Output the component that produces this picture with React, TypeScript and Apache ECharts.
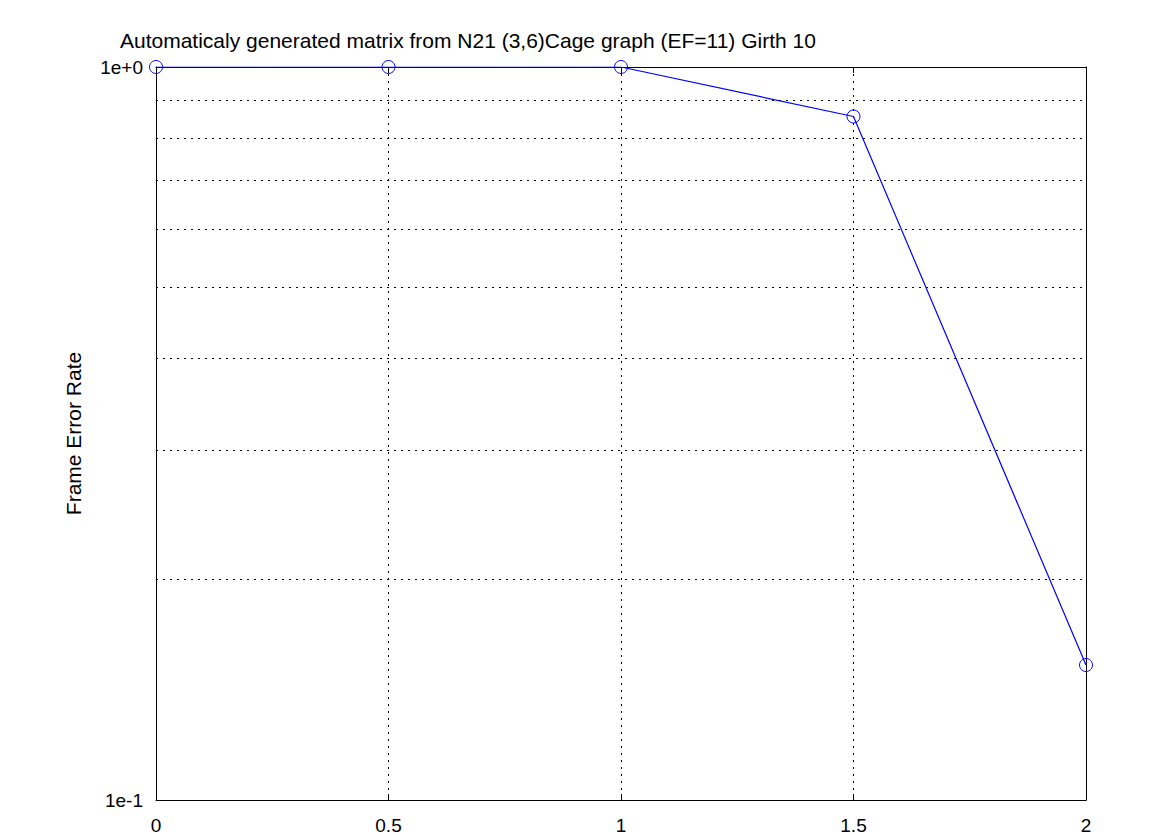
import React, { useEffect, useRef } from "react";
import * as echarts from "echarts";

const titleText = "Automaticaly generated matrix from N21 (3,6)Cage graph (EF=11) Girth 10";
const yAxisName = "Frame Error Rate";
const xValues = [0, 0.5, 1, 1.5, 2];
const ferValues = [1.0, 1.0, 1.0, 0.856, 0.1528];
const minorGridValues = [0.2, 0.3, 0.4, 0.5, 0.6, 0.7, 0.8, 0.9];

export default function App() {
  const ref = useRef<HTMLDivElement>(null);
  useEffect(() => {
    if (!ref.current) return;
    const chart = echarts.init(ref.current, undefined, { renderer: "svg" });
    const font = "Liberation Sans, Arial, sans-serif";
    chart.setOption({
      animation: false,
      backgroundColor: "#ffffff",
      title: {
        text: titleText,
        left: 115,
        top: 25,
        textStyle: { fontFamily: font, fontSize: 21, fontWeight: "normal", color: "#000" },
      },
      grid: { left: 156, right: 89, top: 67, bottom: 35 },
      xAxis: [
        {
          type: "value",
          min: 0,
          max: 2,
          interval: 0.5,
          axisLine: { show: true, onZero: false, lineStyle: { color: "#000", width: 1 } },
          axisTick: { show: true, inside: true, length: 6, lineStyle: { color: "#000" } },
          axisLabel: {
            margin: 16,
            fontFamily: font,
            fontSize: 19,
            color: "#000",
            formatter: (v: number) => String(v),
          },
          splitLine: { show: true, lineStyle: { color: "#000", type: [2, 5], width: 1 } },
        },
        {
          type: "value",
          position: "top",
          min: 0,
          max: 2,
          interval: 0.5,
          axisLine: { show: true, onZero: false, lineStyle: { color: "#000", width: 1 } },
          axisTick: { show: true, inside: true, length: 6, lineStyle: { color: "#000" } },
          axisLabel: { show: false },
          splitLine: { show: false },
        },
      ],
      yAxis: [
        {
          type: "log",
          logBase: 10,
          min: 0.1,
          max: 1,
          name: yAxisName,
          nameLocation: "middle",
          nameGap: 72,
          nameRotate: 90,
          nameTextStyle: { fontFamily: font, fontSize: 21, color: "#000" },
          axisLine: { show: true, onZero: false, lineStyle: { color: "#000", width: 1 } },
          axisTick: { show: true, inside: true, length: 6, lineStyle: { color: "#000" } },
          axisLabel: {
            margin: 13,
            fontFamily: font,
            fontSize: 19,
            color: "#000",
            formatter: (v: number) => (v >= 0.99 ? "1e+0" : "1e-1"),
          },
          splitLine: { show: false },
        },
        {
          type: "log",
          logBase: 10,
          min: 0.1,
          max: 1,
          position: "right",
          axisLine: { show: true, onZero: false, lineStyle: { color: "#000", width: 1 } },
          axisTick: { show: false },
          axisLabel: { show: false },
          splitLine: { show: false },
        },
      ],
      series: [
        {
          type: "line",
          data: xValues.map((x, i) => [x, ferValues[i]]),
          symbol: "circle",
          symbolSize: 13,
          itemStyle: { color: "transparent", borderColor: "#0000ff", borderWidth: 1 },
          lineStyle: { color: "#0000ff", width: 1.2 },
          z: 5,
          markLine: {
            silent: true,
            symbol: "none",
            label: { show: false },
            lineStyle: { color: "#000", type: [2, 5], width: 1 },
            data: minorGridValues.map((v) => ({ yAxis: v })),
            z: 1,
          },
        },
      ],
    });
    return () => chart.dispose();
  }, []);
  return (
    <div
      ref={ref}
      style={{ position: "absolute", left: 0, top: 0, width: 1175, height: 835 }}
    />
  );
}
